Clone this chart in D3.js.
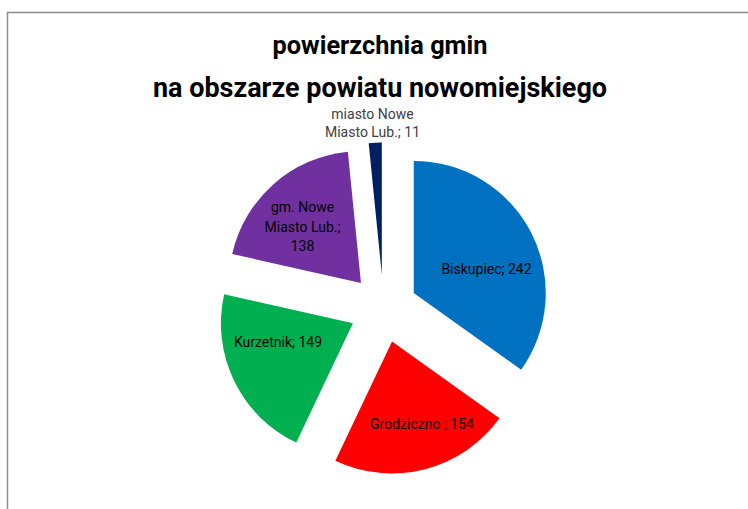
<!DOCTYPE html>
<html>
<head>
<meta charset="utf-8">
<script src="https://cdn.jsdelivr.net/npm/d3@7"></script>
<style>
  html, body { margin: 0; padding: 0; background: #fff; }
  svg { display: block; }
</style>
</head>
<body>
<div id="chart"></div>
<script>
// data: area of communes (km2)
const gminy = ["Biskupiec", "Grodziczno ", "Kurzetnik", "gm. Nowe Miasto Lub.", "miasto Nowe Miasto Lub."];
const powierzchnia = [242, 154, 149, 138, 11];
const kolory = ["#0070c0", "#ff0000", "#00b050", "#7030a0", "#002060"];
const titleLines = ["powierzchnia gmin", "na obszarze powiatu nowomiejskiego"];

// label text, split into lines like in the reference
const labelLines = [
  ["Biskupiec; 242"],
  ["Grodziczno ; 154"],
  ["Kurzetnik; 149"],
  ["gm. Nowe", "Miasto Lub.;", "138"],
  ["miasto Nowe", "Miasto Lub.; 11"]
];

const width = 748, height = 509;
const cx = 383.5, cy = 308.5;
const radius = 132;
const explode = 34;

const svg = d3.select("#chart").append("svg")
  .attr("width", width)
  .attr("height", height);

// chart frame (only top and left visible)
svg.append("path")
  .attr("d", `M7.5,${height} L7.5,12.5 L${width},12.5`)
  .attr("fill", "none")
  .attr("stroke", "#8c8c8c")
  .attr("stroke-width", 1.5);

// title, sized to the reference widths
const titleWidths = [215, 454];
const titleY = [45, 88];
titleLines.forEach((t, i) => {
  const txt = svg.append("text")
    .attr("x", 380)
    .attr("y", titleY[i])
    .attr("text-anchor", "middle")
    .attr("dominant-baseline", "central")
    .style("font-family", "Roboto, 'Open Sans', sans-serif")
    .style("font-weight", "bold")
    .style("font-size", "24px")
    .attr("fill", "#000")
    .text(t);
  const w = txt.node().getComputedTextLength();
  txt.style("font-size", (24 * titleWidths[i] / w).toFixed(2) + "px");
});

const pie = d3.pie().sort(null).value(d => d)(powierzchnia);
const arc = d3.arc().innerRadius(0).outerRadius(radius);

const g = svg.append("g").attr("transform", `translate(${cx},${cy})`);

const slices = g.selectAll("g.slice")
  .data(pie)
  .join("g")
  .attr("class", "slice")
  .attr("transform", d => {
    const m = (d.startAngle + d.endAngle) / 2;
    return `translate(${explode * Math.sin(m)},${-explode * Math.cos(m)})`;
  });

slices.append("path")
  .attr("d", arc)
  .attr("fill", (d, i) => kolory[i]);

// label positions (absolute)
const labelPos = [
  [486.5, 269],
  [422, 423.5],
  [278, 341.5],
  [302.5, 226.5],
  [372.5, 123]
];
const lineH = [19.5, 19.5, 19.5, 19.5, 18.5];

labelLines.forEach((lines, i) => {
  const [x, y] = labelPos[i];
  const t = svg.append("text")
    .attr("text-anchor", "middle")
    .style("font-family", "Roboto, 'DejaVu Sans Condensed', sans-serif")
    .style("font-size", "14px")
    .attr("fill", i === 4 ? "#404040" : "#000");
  lines.forEach((ln, j) => {
    t.append("tspan")
      .attr("x", x)
      .attr("y", y + (j - (lines.length - 1) / 2) * lineH[i])
      .attr("dominant-baseline", "central")
      .text(ln);
  });
});
</script>
</body>
</html>
